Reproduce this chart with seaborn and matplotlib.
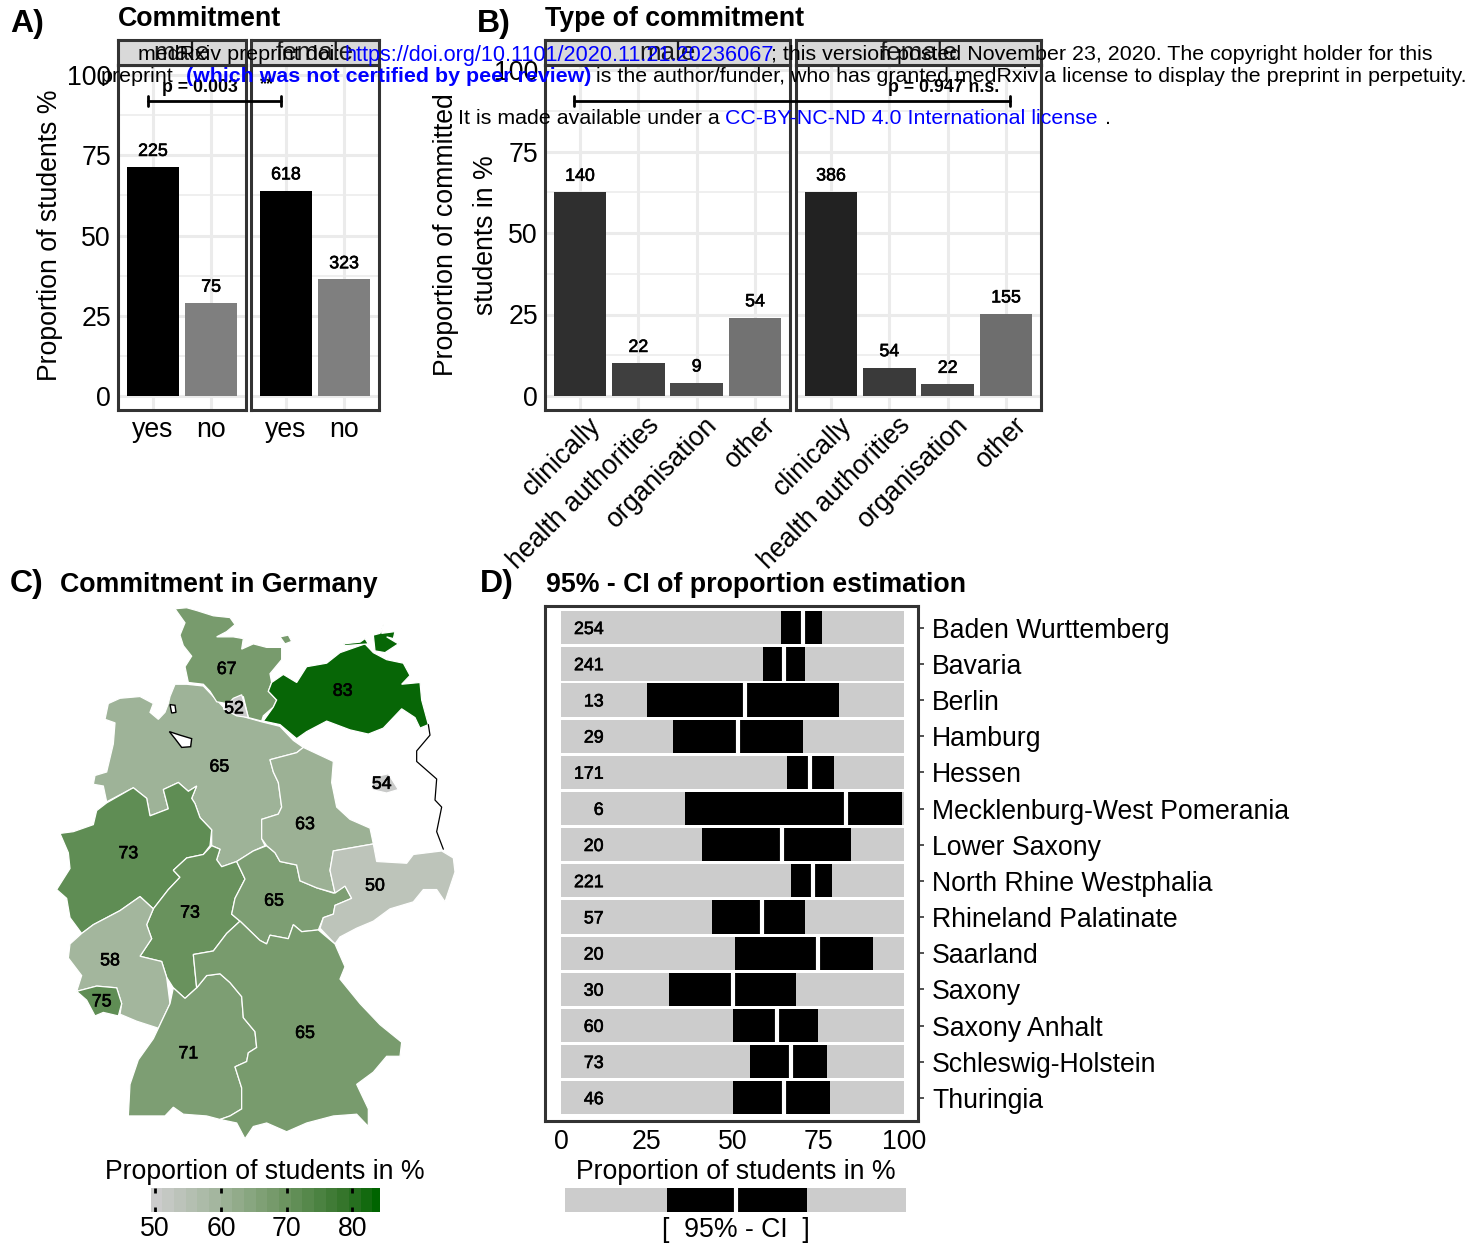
import matplotlib
matplotlib.use("Agg")
import matplotlib.pyplot as plt
from matplotlib.colors import LinearSegmentedColormap, Normalize
from matplotlib.cm import ScalarMappable
from matplotlib.transforms import ScaledTranslation
import matplotlib.patheffects as pe
import seaborn as sns

W, H = 1483, 1245
sns.set_theme(style="whitegrid")
plt.rcParams['font.family'] = ['Liberation Sans', 'DejaVu Sans']

# ---------- data ----------
commit_cats = ["yes", "no"]
commit_male = [71.3, 29.0]
commit_female = [64.0, 36.3]
commit_male_n = ["225", "75"]
commit_female_n = ["618", "323"]

type_cats = ["clinically", "health authorities", "organisation", "other"]
type_male = [62.5, 10.0, 4.0, 24.0]
type_female = [62.6, 8.7, 3.6, 25.2]
type_male_n = ["140", "22", "9", "54"]
type_female_n = ["386", "54", "22", "155"]
type_male_cols = ["#2f2f2f", "#3f3f3f", "#4a4a4a", "#727272"]
type_female_cols = ["#222222", "#3a3a3a", "#474747", "#6e6e6e"]

states = ["Baden Wurttemberg", "Bavaria", "Berlin", "Hamburg", "Hessen",
          "Mecklenburg-West Pomerania", "Lower Saxony", "North Rhine Westphalia",
          "Rhineland Palatinate", "Saarland", "Saxony", "Saxony Anhalt",
          "Schleswig-Holstein", "Thuringia"]
ci_n = [254, 241, 13, 29, 171, 6, 20, 221, 57, 20, 30, 60, 73, 46]
ci_low = [64, 59, 25, 32.5, 66, 36, 41, 67, 44, 50.7, 31.5, 50, 55, 50]
ci_high = [76, 71, 81, 70.5, 79.5, 99.5, 84.5, 79, 71, 91, 68.5, 75, 77.5, 78.5]
ci_mid = [70.5, 65, 53.5, 51.5, 72.5, 83, 64.5, 73.5, 58.5, 75, 50, 63, 67, 65]
ci_full = [100] * 14

legend_low, legend_mid, legend_high = 30, 50, 71

# map outlines with label, label position, fill level
sh = [(405,25),(440,22),(470,30),(520,45),(570,50),(585,70),(560,90),(530,105),(580,105),(610,110),(605,140),(640,125),(680,135),(725,135),(725,170),(690,210),(695,235),(685,260),(710,285),(700,305),(670,330),(665,345),(625,335),(610,275),(590,285),(560,295),(530,290),(510,260),(490,240),(445,235),(435,190),(455,160),(430,130),(420,100),(435,65)]
fehmarn = [(720,105),(745,100),(755,118),(735,125)]
mv = [(670,345),(700,305),(710,285),(685,260),(695,235),(730,212),(770,235),(800,190),(860,180),(900,150),(975,125),(1000,150),(1040,170),(1090,180),(1110,215),(1085,240),(1140,235),(1145,285),(1165,355),(1140,365),(1125,335),(1085,310),(1050,345),(1030,365),(985,382),(930,370),(860,345),(800,375),(770,395),(720,355)]
ruegen = [(1000,100),(1020,95),(1030,70),(1025,95),(1065,90),(1060,110),(1040,105),(1075,125),(1035,150),(1005,145)]
darss = [(910,125),(960,120),(975,110),(985,125),(915,130)]
ls = [(390,275),(405,240),(440,240),(490,245),(520,275),(555,310),(620,335),(665,347),(720,360),(760,400),(790,420),(770,435),(690,455),(700,490),(715,520),(725,590),(715,610),(665,625),(665,680),(675,700),(640,715),(590,745),(545,760),(530,740),(540,710),(515,700),(515,655),(480,620),(465,580),(455,565),(470,530),(445,545),(415,520),(370,540),(385,595),(330,615),(320,565),(280,535),(200,575),(190,530),(160,525),(165,500),(200,490),(220,410),(225,350),(195,340),(205,295),(240,280),(300,275),(340,295),(330,320),(355,340),(375,320),(385,295)]
bremen = [(388,375),(420,385),(455,395),(452,418),(425,420),(405,395)]
bremerhaven = [(390,298),(405,300),(408,320),(395,322)]
hamburg = [(550,310),(580,280),(605,270),(615,300),(625,335),(590,330)]
nrw = [(60,665),(100,660),(160,640),(170,600),(200,578),(270,540),(280,535),(320,565),(330,615),(385,595),(370,540),(415,520),(445,545),(470,530),(455,565),(465,580),(480,620),(515,655),(510,700),(490,725),(440,735),(400,770),(420,790),(385,825),(340,880),(300,845),(240,885),(160,925),(125,950),(90,905),(80,850),(50,825),(90,765),(85,720)]
hesse = [(515,700),(540,710),(530,740),(545,760),(590,745),(615,795),(585,850),(575,895),(600,915),(560,950),(520,1000),(460,1010),(470,1105),(435,1135),(400,1105),(380,1075),(365,1030),(300,1015),(335,965),(320,925),(340,880),(385,825),(420,790),(400,770),(440,735),(490,725)]
thuringia = [(590,745),(640,715),(680,700),(705,720),(720,745),(770,755),(780,800),(830,820),(880,835),(915,815),(935,850),(885,870),(880,895),(850,905),(835,940),(785,945),(760,925),(745,965),(690,955),(680,980),(660,970),(600,915),(575,895),(585,850),(615,795)]
anhalt = [(690,455),(770,435),(790,420),(880,460),(875,520),(890,590),(930,625),(990,650),(1000,695),(880,715),(870,770),(885,835),(830,820),(780,800),(770,755),(720,745),(705,720),(680,700),(665,680),(665,625),(715,610),(725,590),(715,520),(700,490)]
brandenburg = [(790,420),(770,395),(800,375),(860,345),(930,370),(985,382),(1030,365),(1085,310),(1125,335),(1140,365),(1165,355),(1170,385),(1130,430),(1130,460),(1190,510),(1185,570),(1205,590),(1190,660),(1210,710),(1120,725),(1100,750),(1010,745),(1000,695),(990,650),(930,625),(890,590),(875,520),(880,460)]
oder_border = [(1165,355),(1170,385),(1130,430),(1130,460),(1190,510),(1185,570),(1205,590),(1190,660),(1210,710)]
berlin = [(1000,505),(1045,495),(1075,540),(1040,550),(995,540)]
saxony = [(880,715),(1000,695),(1010,745),(1100,750),(1120,725),(1205,715),(1240,735),(1245,775),(1215,860),(1190,825),(1150,825),(1120,860),(1050,880),(1000,915),(950,935),(900,960),(885,980),(840,935),(850,905),(880,895),(885,870),(935,850),(915,815),(885,835),(870,770)]
rlp = [(125,950),(160,925),(240,885),(300,845),(340,880),(320,925),(335,965),(300,1015),(365,1030),(380,1075),(390,1150),(355,1220),(290,1200),(240,1180),(245,1150),(230,1105),(170,1100),(110,1115),(125,1070),(85,1020),(90,980)]
saarland = [(110,1115),(170,1100),(230,1105),(245,1150),(235,1185),(190,1175),(165,1185),(140,1140)]
bw = [(355,1220),(390,1150),(400,1105),(435,1135),(470,1105),(500,1070),(540,1065),(570,1090),(605,1130),(610,1190),(645,1230),(650,1275),(625,1290),(620,1315),(585,1330),(605,1390),(605,1450),(570,1470),(540,1480),(500,1470),(430,1465),(400,1445),(375,1470),(265,1470),(270,1380),(295,1310),(340,1250)]
bavaria = [(460,1010),(520,1000),(560,950),(600,915),(660,970),(680,980),(690,955),(745,965),(760,925),(785,945),(835,940),(885,980),(915,1045),(900,1080),(960,1150),(1020,1210),(1085,1260),(1080,1300),(1040,1300),(1000,1345),(950,1380),(985,1450),(985,1500),(950,1465),(880,1470),(800,1490),(740,1515),(680,1490),(640,1500),(615,1535),(590,1490),(540,1480),(570,1470),(605,1450),(605,1390),(585,1330),(620,1315),(625,1290),(650,1275),(645,1230),(610,1190),(605,1130),(570,1090),(540,1065),(500,1070),(470,1105)]

map_regions = [
    (brandenburg, None), (ls, 60), (sh, 67.5), (fehmarn, 67.5), (mv, 84), (ruegen, 84), (darss, 84),
    (hamburg, 50), (nrw, 72), (hesse, 70.5), (thuringia, 66.5), (anhalt, 60.5),
    (berlin, 50), (saxony, 53), (rlp, 59), (saarland, 72), (bw, 66.5), (bavaria, 67.5),
]
map_labels = ["67", "83", "52", "65", "54", "63", "73", "73", "65", "50", "58", "75", "71", "65"]
map_label_x = [560, 908, 582, 538, 1025, 795, 265, 450, 702, 1005, 210, 185, 445, 795]
map_label_y = [198, 260, 310, 476, 525, 640, 723, 892, 858, 815, 1028, 1145, 1293, 1235]

# colour scale of the map
scale_stops = [(0.0, "#cccccc"), (10/34.5, "#a0b49a"), (20/34.5, "#6c9460"), (30/34.5, "#2f7226"), (1.0, "#006400")]
scale_cmap = LinearSegmentedColormap.from_list("commit", scale_stops)
scale_norm = Normalize(49.3, 84.8)
scale_ticks = [50, 60, 70, 80]

# ---------- helpers ----------
fig = plt.figure(figsize=(W / 100, H / 100), dpi=100, facecolor="white")
EDGE = "#333333"
GRID = "#ebebeb"
LAB = 19.2
TICK = 19.2
NUM = 12.8


def ax_px(l, t, r, b, **kw):
    return fig.add_axes([l / W, 1 - b / H, (r - l) / W, (b - t) / H], **kw)


def strokes(w=0.45):
    return [pe.withStroke(linewidth=w, foreground="black")]


def facet(l, r, top, bot, strip_top, strip_bot, cats, vals, cols, labs, title, ymax_px_unit, y0_px, xmax, show_y, rot):
    ax = ax_px(l, top, r, bot)
    ax.set_facecolor("white")
    sns.barplot(x=cats, y=vals, hue=cats, palette=cols, legend=False, width=0.9, gap=0,
                saturation=1, linewidth=0, ax=ax, zorder=3)
    ax.set_xlim(-0.6, xmax)
    ax.set_ylim((y0_px - bot) / ymax_px_unit, (y0_px - top) / ymax_px_unit)
    ax.set_yticks([0, 25, 50, 75, 100])
    ax.set_yticks([12.5, 37.5, 62.5, 87.5], minor=True)
    ax.set_axisbelow(True)
    ax.grid(True, which="major", color=GRID, lw=2.2)
    ax.grid(True, which="minor", axis="y", color=GRID, lw=1.1)
    ax.tick_params(which="minor", length=0)
    ax.tick_params(axis="both", which="major", length=4, width=1.2, color=EDGE, pad=1, labelsize=TICK, labelcolor="black")
    if not show_y:
        ax.tick_params(axis="y", which="major", length=0, labelleft=False)
    if rot:
        ax.set_xticks(range(len(cats)))
        ax.set_xticklabels(cats, rotation=45, ha="right", rotation_mode="anchor", fontsize=TICK)
        shift = ScaledTranslation(8 / 100, 5 / 100, fig.dpi_scale_trans)
        for lab in ax.get_xticklabels():
            lab.set_transform(lab.get_transform() + shift)
    for s in ax.spines.values():
        s.set_color(EDGE)
        s.set_linewidth(2.2)
        s.set_visible(True)
    for i, (v, t) in enumerate(zip(vals, labs)):
        ax.text(i, v + 4.9, t, ha="center", va="center", fontsize=NUM, color="black", path_effects=strokes(), zorder=5)
    st = ax_px(l, strip_top, r, strip_bot)
    st.set_facecolor("#d9d9d9")
    st.set_xticks([])
    st.set_yticks([])
    st.grid(False)
    for s in st.spines.values():
        s.set_color(EDGE)
        s.set_linewidth(2.2)
        s.set_visible(True)
    st.text(0.5, 0.48, title, transform=st.transAxes, ha="center", va="center", fontsize=LAB - 0.5, color="#1a1a1a")
    return ax


# ---------- panel A ----------
a1 = facet(118, 246, 65, 410, 40, 65, commit_cats, commit_male, ["#000000", "#7f7f7f"], commit_male_n, "male", 3.21, 396, 1.6, True, False)
a2 = facet(251, 379, 65, 410, 40, 65, commit_cats, commit_female, ["#000000", "#7f7f7f"], commit_female_n, "female", 3.21, 396, 1.6, False, False)
a1.set_ylabel("Proportion of students %", fontsize=LAB, color="black", va="center")
a1.yaxis.set_label_coords((50 - 118) / 128, (410 - 235) / 345)

# ---------- panel B ----------
b1 = facet(545, 790, 65, 410, 40, 65, type_cats, type_male, type_male_cols, type_male_n, "male", 3.26, 396, 3.6, True, True)
b2 = facet(796, 1041, 65, 410, 40, 65, type_cats, type_female, type_female_cols, type_female_n, "female", 3.26, 396, 3.6, False, True)
b1.set_ylabel("Proportion of committed\nstudents in %", fontsize=LAB, color="black", va="center", ha="center", linespacing=1.72)
b1.yaxis.set_label_coords((466 - 545) / 245, (410 - 235) / 345)

# ---------- panel C ----------
m = ax_px(40, 600, 470, 1150)
m.set_xlim(0, 1290)
m.set_ylim(1567, 0)
m.axis("off")
for poly, level in map_regions:
    xs, ys = zip(*poly)
    if level is None:
        m.fill(xs, ys, facecolor="white", edgecolor="none")
    else:
        m.fill(xs, ys, facecolor=scale_cmap(scale_norm(level)), edgecolor="white", lw=0.9)
for poly in (bremen, bremerhaven):
    xs, ys = zip(*poly)
    m.fill(xs, ys, facecolor="white", edgecolor="black", lw=1.0)
m.plot(*zip(*oder_border), color="black", lw=0.9)
for t, x, y in zip(map_labels, map_label_x, map_label_y):
    m.text(x, y, t, ha="center", va="center", fontsize=NUM, color="black", path_effects=strokes())

cax = ax_px(150, 1188, 380, 1212)
cb = fig.colorbar(ScalarMappable(norm=scale_norm, cmap=scale_cmap.resampled(20)), cax=cax, orientation="horizontal", ticks=scale_ticks)
cb.outline.set_visible(False)
cax.set_xlim(49.2, 84.2)
cax.grid(False)
cax.tick_params(axis="x", length=0, pad=3, labelsize=TICK, labelcolor="black")
cax.vlines(scale_ticks, 0.0, 0.2, color="black", lw=2)
cax.vlines(scale_ticks, 0.8, 1.0, color="black", lw=2)

# ---------- panel D ----------
d = ax_px(545, 606, 918, 1121)
d.set_facecolor("white")
sns.barplot(y=states, x=ci_full, orient="y", color="#cccccc", saturation=1, width=0.92, gap=0, linewidth=0, ax=d)
sns.barplot(y=states, x=ci_high, orient="y", color="black", saturation=1, width=0.92, gap=0, linewidth=0, ax=d)
sns.barplot(y=states, x=ci_low, orient="y", color="#cccccc", saturation=1, width=0.92, gap=0, linewidth=0, ax=d)
d.vlines(ci_mid, [i - 0.46 for i in range(14)], [i + 0.46 for i in range(14)], color="white", lw=3, zorder=6)
for i, n in enumerate(ci_n):
    d.text(12.4, i + 0.05, str(n), ha="right", va="center", fontsize=NUM, color="black", path_effects=strokes(), zorder=7)
d.set_xlim(-4.7, 104.1)
d.set_ylim(13.64, -0.6)
d.grid(False)
d.set_xticks([0, 25, 50, 75, 100])
d.yaxis.tick_right()
d.tick_params(axis="x", length=4, width=1.2, color=EDGE, pad=2, labelsize=TICK, labelcolor="black")
d.tick_params(axis="y", length=4, width=1.2, color=EDGE, pad=6, labelsize=TICK, labelcolor="black")
for s in d.spines.values():
    s.set_color(EDGE)
    s.set_linewidth(2.2)
    s.set_visible(True)
d.set_xlabel("Proportion of students in %", fontsize=LAB, color="black", va="center")
d.xaxis.set_label_coords((736 - 545) / 373, (1121 - 1172) / 515)

# legend of the CI bars
lg = ax_px(565, 1188, 906, 1212)
sns.barplot(y=["CI"], x=[100], orient="y", color="#cccccc", saturation=1, width=1, linewidth=0, ax=lg)
sns.barplot(y=["CI"], x=[legend_high], orient="y", color="black", saturation=1, width=1, linewidth=0, ax=lg)
sns.barplot(y=["CI"], x=[legend_low], orient="y", color="#cccccc", saturation=1, width=1, linewidth=0, ax=lg)
lg.vlines([legend_mid], -0.5, 0.5, color="white", lw=3, zorder=6)
lg.set_xlim(0, 100)
lg.set_ylim(0.5, -0.5)
lg.axis("off")

# ---------- overlay texts ----------
o = fig.add_axes([0, 0, 1, 1], zorder=20)
o.set_xlim(0, W)
o.set_ylim(H, 0)
o.axis("off")
o.patch.set_alpha(0)


def t(x, y, s, **kw):
    kw.setdefault("va", "center")
    kw.setdefault("color", "black")
    o.text(x, y, s, **kw)


TAG = 23
HEAD = 19.3
t(10, 24, "A)", fontsize=TAG, fontweight="bold")
t(477, 24, "B)", fontsize=TAG, fontweight="bold")
t(10, 584, "C)", fontsize=TAG, fontweight="bold")
t(480, 584, "D)", fontsize=TAG, fontweight="bold")
t(118, 19, "Commitment", fontsize=HEAD, fontweight="bold")
t(545, 19, "Type of commitment", fontsize=HEAD, fontweight="bold")
t(60, 585, "Commitment in Germany", fontsize=HEAD, fontweight="bold")
t(546, 585, "95% - CI of proportion estimation", fontsize=HEAD, fontweight="bold")

t(265, 1172, "Proportion of students in %", fontsize=LAB, ha="center")
t(736, 1230, "[  95% - CI  ]", fontsize=LAB, ha="center")

for x1, x2 in ((148, 281), (574, 1010)):
    o.plot([x1, x2], [101, 101], color="black", lw=2)
    o.plot([x1, x1], [96, 106], color="black", lw=2)
    o.plot([x2, x2], [96, 106], color="black", lw=2)
t(200, 88, "p = 0.003", fontsize=NUM, fontweight="bold", ha="center")
t(267, 85, "**", fontsize=NUM, fontweight="bold", ha="center")
t(944, 88, "p = 0.947 n.s.", fontsize=NUM, fontweight="bold", ha="center")

BANNER = 15.4
t(138, 55, "medRxiv preprint doi:", fontsize=BANNER)
t(345, 55, "https://doi.org/10.1101/2020.11.21.20236067", fontsize=15.55, color="#0000ff")
t(771, 55, "; this version posted November 23, 2020. The copyright holder for this", fontsize=BANNER)
t(101, 76, "preprint", fontsize=BANNER)
t(186, 76, "(which was not certified by peer review)", fontsize=BANNER, color="#0000ff", fontweight="bold")
t(596, 76, "is the author/funder, who has granted medRxiv a license to display the preprint in perpetuity.", fontsize=BANNER)
t(458, 119, "It is made available under a", fontsize=BANNER)
t(725, 119, "CC-BY-NC-ND 4.0 International license", fontsize=BANNER, color="#0000ff")
t(1105, 119, ".", fontsize=BANNER)

fig.savefig("out.png", dpi=100, facecolor="white")
